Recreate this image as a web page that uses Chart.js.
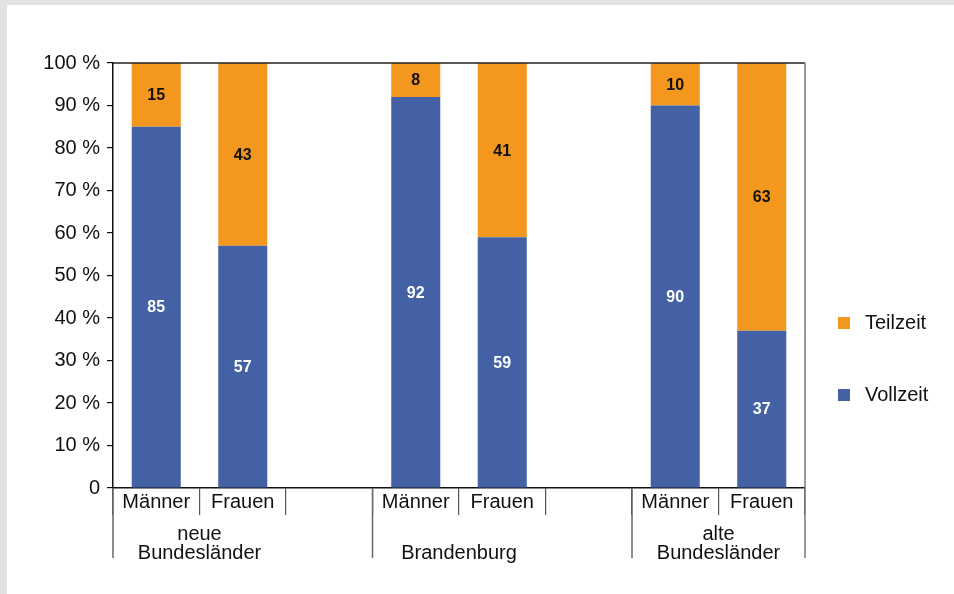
<!DOCTYPE html>
<html>
<head>
<meta charset="utf-8">
<script src="https://cdn.jsdelivr.net/npm/chart.js@4/dist/chart.umd.min.js"></script>
<style>
  html, body { margin: 0; padding: 0; background: #e2e3e5; width: 954px; height: 594px; overflow: hidden; }
  #wrap { position: absolute; left: 7px; top: 5px; width: 947px; height: 589px; background: #ffffff; }
  canvas { display: block; }
</style>
</head>
<body>
<div id="wrap"><canvas id="c" width="947" height="589"></canvas></div>
<script>
// ---- data ----
const categories = ["Männer", "Frauen", "", "Männer", "Frauen", "", "Männer", "Frauen"];
const vollzeit = [85, 57, null, 92, 59, null, 90, 37];
const teilzeit = [15, 43, null, 8, 41, null, 10, 63];
const groupLabels = [["neue", "Bundesländer"], ["", "Brandenburg"], ["alte", "Bundesländer"]];
const groupMembers = [[0, 1], [3, 4], [6, 7]];
const yTickValues = [0, 10, 20, 30, 40, 50, 60, 70, 80, 90, 100];

const FONT = "'Liberation Sans', Arial, sans-serif";
const ORANGE = "#F3971E";
const BLUE = "#4361A4";

const extras = {
  id: "extras",
  afterDatasetsDraw(chart) {
    const ctx = chart.ctx;
    ctx.save();
    ctx.font = "bold 16px " + FONT;
    ctx.textAlign = "center";
    ctx.textBaseline = "middle";
    chart.data.datasets.forEach((ds, di) => {
      const meta = chart.getDatasetMeta(di);
      meta.data.forEach((el, i) => {
        const v = ds.data[i];
        if (v === null || v === undefined) return;
        const p = el.getProps(["x", "y", "base"], true);
        ctx.fillStyle = ds.labelColor;
        ctx.fillText(String(v), p.x, (p.y + p.base) / 2 + 1);
      });
    });
    ctx.restore();
  },
  afterDraw(chart) {
    const ctx = chart.ctx;
    const ca = chart.chartArea;
    const xs = chart.scales.x;
    const slot = xs.getPixelForValue(1) - xs.getPixelForValue(0);
    ctx.save();
    // top frame line
    ctx.strokeStyle = "#222";
    ctx.lineWidth = 1.5;
    ctx.beginPath();
    ctx.moveTo(ca.left, ca.top);
    ctx.lineTo(ca.right, ca.top);
    ctx.stroke();
    // right frame line (extends down to group area)
    ctx.strokeStyle = "#777";
    ctx.lineWidth = 1.5;
    ctx.beginPath();
    ctx.moveTo(ca.right, ca.top);
    ctx.lineTo(ca.right, ca.bottom + 70);
    ctx.stroke();
    // group separator lines
    ctx.strokeStyle = "#666";
    ctx.lineWidth = 1.5;
    groupMembers.forEach(m => {
      const x = xs.getPixelForValue(m[0]) - slot / 2;
      ctx.beginPath();
      ctx.moveTo(x, ca.bottom);
      ctx.lineTo(x, ca.bottom + 70);
      ctx.stroke();
    });
    // group labels
    ctx.fillStyle = "#111";
    ctx.font = "20px " + FONT;
    ctx.textAlign = "center";
    ctx.textBaseline = "alphabetic";
    groupLabels.forEach((lines, g) => {
      const m = groupMembers[g];
      const cx = (xs.getPixelForValue(m[0]) + xs.getPixelForValue(m[1])) / 2;
      ctx.fillText(lines[0], cx, ca.bottom + 52);
      ctx.fillText(lines[1], cx, ca.bottom + 71);
    });
    // legend (Teilzeit on top, Vollzeit below)
    const order = [1, 0];
    order.forEach((di, k) => {
      const ds = chart.data.datasets[di];
      const y = 312 + k * 72;
      ctx.fillStyle = ds.backgroundColor;
      ctx.fillRect(831, y, 12, 12);
      ctx.fillStyle = "#111";
      ctx.textAlign = "left";
      ctx.textBaseline = "middle";
      ctx.fillText(ds.label, 858, y + 6);
    });
    ctx.restore();
  }
};

new Chart(document.getElementById("c"), {
  type: "bar",
  data: {
    labels: categories,
    datasets: [
      { label: "Vollzeit", data: vollzeit, backgroundColor: BLUE, labelColor: "#ffffff",
        borderWidth: 0, categoryPercentage: 1.0, barPercentage: 0.567 },
      { label: "Teilzeit", data: teilzeit, backgroundColor: ORANGE, labelColor: "#111111",
        borderWidth: 0, categoryPercentage: 1.0, barPercentage: 0.567 }
    ]
  },
  options: {
    responsive: false,
    devicePixelRatio: 1,
    animation: false,
    layout: { padding: { left: 0, top: 58, right: 149, bottom: 46 } },
    plugins: { legend: { display: false }, tooltip: { enabled: false } },
    scales: {
      x: {
        stacked: true,
        offset: true,
        grid: { offset: true, drawOnChartArea: false, drawTicks: true, tickLength: 27, color: "#555", lineWidth: 1.2 },
        border: { display: true, color: "#111", width: 1.5 },
        ticks: { font: { family: FONT, size: 20 }, color: "#111", padding: -25, maxRotation: 0, autoSkip: false },
        afterFit(s) { s.height = 60; }
      },
      y: {
        stacked: true,
        min: 0, max: 100,
        afterBuildTicks(s) { s.ticks = yTickValues.map(v => ({ value: v })); },
        grid: { drawOnChartArea: false, drawTicks: true, tickLength: 6, color: "#111", lineWidth: 1.2 },
        border: { display: true, color: "#111", width: 1.5 },
        ticks: {
          font: { family: FONT, size: 20 }, color: "#111", padding: 7,
          callback: v => v === 0 ? "0" : v + " %"
        },
        afterFit(s) { s.width = 106; }
      }
    }
  },
  plugins: [extras]
});
</script>
</body>
</html>
